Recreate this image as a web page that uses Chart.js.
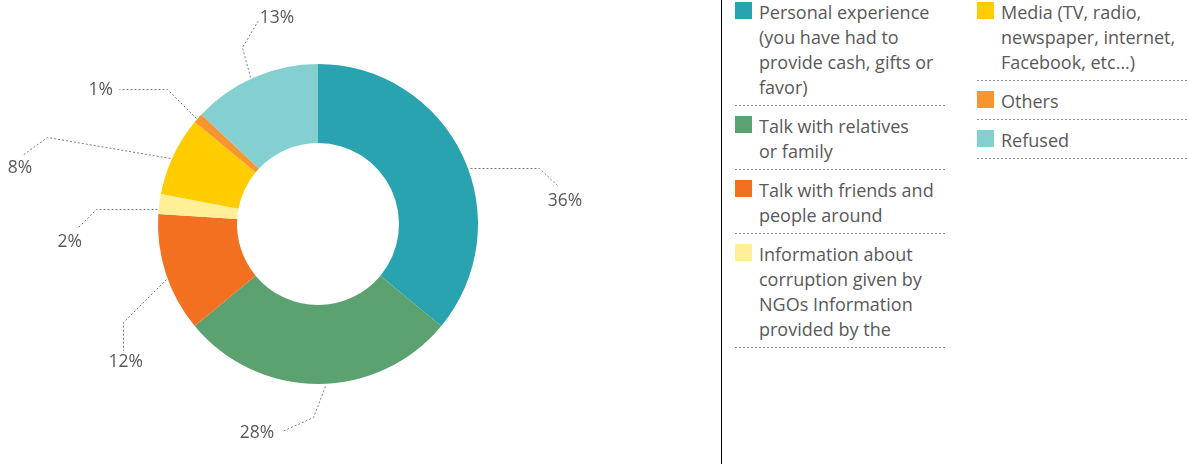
<!DOCTYPE html>
<html>
<head>
<meta charset="utf-8">
<script src="https://cdn.jsdelivr.net/npm/chart.js@4/dist/chart.umd.min.js"></script>
<style>
    html, body { margin: 0; padding: 0; background: #fff; }
    body { width: 1188px; height: 466px; position: relative; overflow: hidden; font-family: "Open Sans", sans-serif; }
    #plot { position: absolute; left: 0; top: 0; }
    .divider { position: absolute; left: 721px; top: 0; width: 1px; height: 464px; background: #000; }
    .legend-col { position: absolute; top: 0; width: 211px; }
    .legend-item { display: flex; align-items: flex-start; padding: 8px 0 5px; color: #595959; font-size: 18px; line-height: 25px; white-space: nowrap; }
    .legend-item:first-child { padding-top: 0; }
    .legend-swatch { flex: none; width: 17px; height: 17px; margin: 2px 7px 0 0; }
    .legend-rule { height: 1px; background: repeating-linear-gradient(to right, #8c8c8c 0 2px, transparent 2px 4px); }
</style>
</head>
<body>
<canvas id="plot" width="720" height="466"></canvas>
<div class="divider"></div>
<div class="legend-col" id="legend-a" style="left: 735px;"></div>
<div class="legend-col" id="legend-b" style="left: 977px;"></div>
<script>
'use strict';

const categories = [
    ["Personal experience", "(you have had to", "provide cash, gifts or", "favor)"],
    ["Talk with relatives", "or family"],
    ["Talk with friends and", "people around"],
    ["Information about", "corruption given by", "NGOs Information", "provided by the"],
    ["Media (TV, radio,", "newspaper, internet,", "Facebook, etc…)"],
    ["Others"],
    ["Refused"],
];
const shares = [36, 28, 12, 2, 8, 1, 13];
const sliceColors = ["#29a3b0", "#5ba270", "#f37021", "#ffef96", "#ffcc00", "#f79530", "#84cfd0"];

// callout geometry per slice: angle nudge (deg), elbow, line end, text centre (px from anchor)
const callouts = [
    { nudge: 4.9,  elbow: [69, 0],    end: [88, 18],    text: [95, 33] },
    { nudge: -2.5, elbow: [-12, 31],  end: [-43, 45],   text: [-68, 47] },
    { nudge: -1.9, elbow: [-43, 43],  end: [-43, 71],   text: [-40, 83] },
    { nudge: -1.9, elbow: [-61, 0],   end: [-80, 19],   text: [-87, 33] },
    { nudge: -1.2, elbow: [-123, -21], end: [-148, -3], text: [-150, 10] },
    { nudge: -0.4, elbow: [-29, -29], end: [-77, -29],  text: [-95, -28] },
    { nudge: -1.4, elbow: [-8, -30],  end: [8, -57],    text: [27, -59] },
];
const legendSplit = 4;
const textColor = "#595959";

const calloutPlugin = {
    id: "callouts",
    afterDatasetsDraw(chart) {
        const ctx = chart.ctx;
        const meta = chart.getDatasetMeta(0);
        ctx.save();
        meta.data.forEach((arc, i) => {
            const c = callouts[i];
            if (!c) return;
            const { x, y, startAngle, endAngle, outerRadius } = arc.getProps(["x", "y", "startAngle", "endAngle", "outerRadius"], true);
            const a = (startAngle + endAngle) / 2 + c.nudge * Math.PI / 180;
            const ax = x + (outerRadius + 2) * Math.cos(a);
            const ay = y + (outerRadius + 2) * Math.sin(a);
            ctx.beginPath();
            ctx.setLineDash([2, 2]);
            ctx.strokeStyle = "#7f7f7f";
            ctx.lineWidth = 1;
            ctx.moveTo(Math.round(ax) + 0.5, Math.round(ay) + 0.5);
            ctx.lineTo(Math.round(ax + c.elbow[0]) + 0.5, Math.round(ay + c.elbow[1]) + 0.5);
            ctx.lineTo(Math.round(ax + c.end[0]) + 0.5, Math.round(ay + c.end[1]) + 0.5);
            ctx.stroke();
            ctx.setLineDash([]);
            ctx.fillStyle = textColor;
            ctx.font = '17.5px "Open Sans", sans-serif';
            ctx.textAlign = "center";
            ctx.textBaseline = "middle";
            ctx.fillText(chart.data.datasets[0].data[i] + "%", ax + c.text[0], ay + c.text[1]);
        });
        ctx.restore();
    }
};

function buildLegend(chart) {
    const cols = [document.getElementById("legend-a"), document.getElementById("legend-b")];
    chart.data.labels.forEach((lines, i) => {
        const item = document.createElement("div");
        item.className = "legend-item";
        const sw = document.createElement("span");
        sw.className = "legend-swatch";
        sw.style.background = chart.data.datasets[0].backgroundColor[i];
        const txt = document.createElement("span");
        txt.innerHTML = lines.join("<br>");
        item.appendChild(sw);
        item.appendChild(txt);
        const col = cols[i < legendSplit ? 0 : 1];
        col.appendChild(item);
        const rule = document.createElement("div");
        rule.className = "legend-rule";
        col.appendChild(rule);
    });
}

const chart = new Chart(document.getElementById("plot"), {
    type: "doughnut",
    data: {
        labels: categories,
        datasets: [{
            data: shares,
            backgroundColor: sliceColors,
            borderWidth: 0,
        }]
    },
    options: {
        responsive: false,
        animation: false,
        cutout: 81,
        layout: { padding: { left: 158, right: 242, top: 64, bottom: 82 } },
        plugins: {
            legend: { display: false },
            tooltip: { enabled: false },
        }
    },
    plugins: [calloutPlugin]
});

buildLegend(chart);
</script>
</body>
</html>
